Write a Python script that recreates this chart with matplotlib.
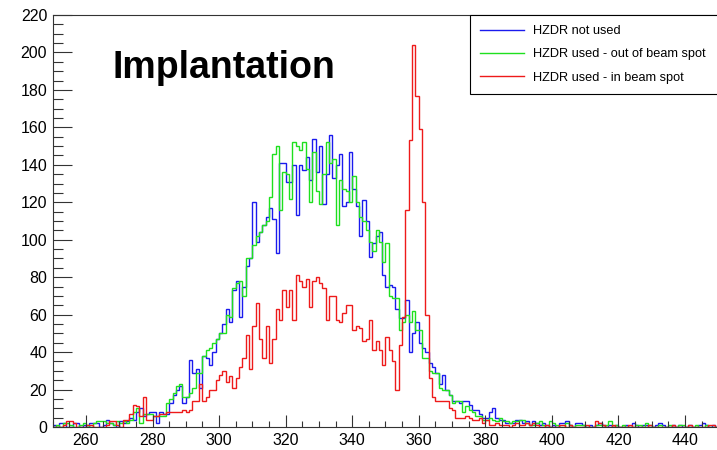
import numpy as np
import matplotlib
matplotlib.use("Agg")
import matplotlib.pyplot as plt
from matplotlib.ticker import MultipleLocator

plt.rcParams["font.family"] = ["Liberation Sans", "DejaVu Sans"]

# histogram range, 1 unit per bin
X_MIN = 250
X_MAX = 450

# counts per bin, bins 250..449
not_used = [
    1, 0, 2, 2, 0, 0, 2, 2, 0, 1,
    0, 2, 2, 2, 0, 1, 4, 2, 1, 0,
    3, 2, 3, 5, 4, 8, 10, 6, 7, 8,
    8, 2, 8, 7, 7, 13, 17, 20, 22, 13,
    16, 36, 29, 31, 21, 38, 37, 33, 40, 47,
    50, 55, 63, 56, 73, 78, 59, 75, 86, 90,
    120, 99, 104, 108, 112, 117, 111, 93, 141, 141,
    131, 131, 140, 113, 140, 137, 144, 132, 154, 136,
    150, 119, 135, 156, 133, 140, 146, 118, 120, 147,
    127, 118, 102, 121, 110, 91, 98, 102, 104, 81,
    75, 76, 75, 63, 58, 58, 68, 40, 50, 56,
    45, 42, 40, 34, 32, 29, 23, 28, 20, 17,
    14, 14, 13, 14, 14, 12, 9, 9, 7, 5,
    5, 8, 10, 5, 4, 4, 2, 2, 2, 4,
    4, 2, 3, 1, 3, 2, 1, 2, 1, 0,
    1, 0, 2, 2, 3, 1, 0, 2, 2, 1,
    0, 1, 0, 1, 2, 1, 0, 1, 0, 1,
    0, 0, 1, 0, 2, 1, 0, 1, 1, 0,
    0, 1, 2, 1, 0, 0, 1, 0, 1, 0,
    0, 1, 0, 0, 1, 2, 1, 0, 1, 0,
]

out_of_spot = [
    0, 1, 0, 2, 2, 1, 0, 0, 1, 2,
    1, 0, 2, 3, 3, 3, 2, 2, 1, 3,
    2, 3, 2, 4, 8, 10, 2, 7, 7, 7,
    6, 6, 6, 6, 13, 15, 18, 22, 23, 16,
    16, 18, 21, 29, 29, 38, 41, 42, 45, 47,
    50, 50, 60, 59, 74, 77, 78, 70, 90, 90,
    97, 102, 104, 108, 110, 123, 146, 150, 116, 136,
    135, 122, 152, 150, 148, 152, 138, 120, 147, 126,
    119, 135, 152, 141, 143, 108, 132, 127, 126, 120,
    134, 120, 112, 110, 105, 99, 94, 105, 99, 88,
    98, 70, 69, 69, 52, 56, 60, 56, 62, 52,
    52, 37, 37, 30, 29, 29, 21, 20, 20, 17,
    13, 14, 14, 8, 11, 9, 8, 6, 6, 4,
    4, 5, 4, 3, 5, 3, 3, 2, 3, 3,
    4, 4, 2, 1, 1, 2, 3, 1, 0, 3,
    2, 1, 0, 0, 2, 1, 0, 1, 1, 1,
    0, 0, 0, 1, 1, 0, 1, 3, 0, 1,
    0, 1, 0, 0, 0, 1, 1, 0, 2, 1,
    0, 0, 1, 0, 0, 1, 0, 0, 1, 1,
    0, 0, 0, 1, 0, 0, 1, 0, 0, 0,
]

in_spot = [
    0, 0, 0, 1, 3, 3, 2, 0, 0, 0,
    1, 1, 0, 0, 0, 0, 1, 3, 3, 1,
    0, 4, 4, 7, 12, 11, 6, 16, 4, 4,
    6, 6, 7, 7, 8, 8, 8, 8, 8, 9,
    8, 9, 14, 14, 23, 14, 16, 20, 20, 25,
    28, 30, 24, 27, 21, 26, 32, 37, 49, 31,
    54, 66, 47, 37, 54, 34, 47, 63, 57, 73,
    64, 73, 57, 81, 78, 75, 79, 64, 78, 80,
    77, 74, 57, 70, 70, 57, 56, 61, 65, 65,
    52, 54, 53, 46, 47, 57, 41, 46, 41, 33,
    48, 41, 35, 20, 44, 59, 116, 153, 204, 177,
    159, 120, 60, 26, 16, 14, 14, 14, 14, 10,
    9, 5, 5, 5, 6, 5, 4, 4, 5, 2,
    4, 1, 1, 2, 1, 1, 1, 0, 1, 2,
    1, 1, 2, 1, 2, 1, 0, 0, 1, 0,
    0, 0, 1, 1, 0, 1, 0, 0, 0, 0,
    1, 0, 0, 3, 2, 1, 0, 0, 1, 0,
    0, 0, 0, 1, 0, 0, 0, 0, 0, 1,
    0, 0, 0, 0, 0, 0, 1, 0, 0, 0,
    0, 1, 0, 0, 0, 0, 0, 1, 1, 0,
]

labels = ["HZDR not used", "HZDR used - out of beam spot", "HZDR used - in beam spot"]
colors = ["#1a1aee", "#1ee01e", "#ee1a1a"]


def main():
    edges = np.arange(X_MIN, X_MAX + 1)

    fig = plt.figure(figsize=(7.17, 4.5), dpi=100)
    # right edge of the frame sits just past the picture, like the reference
    ax = fig.add_axes([52.7 / 717, 23 / 450, 665.6 / 717, 412 / 450])

    for counts, label, color in zip([not_used, out_of_spot, in_spot], labels, colors):
        ax.stairs(counts, edges, color=color, lw=1.0, label=label)

    ax.set_xlim(X_MIN, X_MAX)
    ax.set_ylim(0, 220)

    ax.xaxis.set_major_locator(MultipleLocator(20))
    ax.xaxis.set_minor_locator(MultipleLocator(5))
    ax.yaxis.set_major_locator(MultipleLocator(20))
    ax.yaxis.set_minor_locator(MultipleLocator(5))

    ax.tick_params(axis="both", which="both", direction="in", labelsize=11.5,
                   width=0.8, colors="#333333", labelcolor="black")
    ax.tick_params(axis="y", which="major", length=14, pad=4)
    ax.tick_params(axis="y", which="minor", length=7)
    ax.tick_params(axis="x", which="major", length=9, pad=4)
    ax.tick_params(axis="x", which="minor", length=4.5)

    for side in ["left", "bottom", "top", "right"]:
        ax.spines[side].set_linewidth(0.8)
        ax.spines[side].set_color("#333333")

    ax.text(0.09, 0.847, "Implantation", transform=ax.transAxes,
            fontsize=27, fontweight="bold", va="baseline", ha="left")

    leg = ax.legend(loc="upper left", bbox_to_anchor=(417.3 / 665.6, 0, 248.3 / 665.6, 1.0),
                    mode="expand", borderaxespad=0, fontsize=9.2, fancybox=False,
                    edgecolor="black", framealpha=1, handlelength=3.4,
                    handletextpad=0.75, labelspacing=0.88, borderpad=0.8)
    leg.get_frame().set_linewidth(0.8)

    fig.savefig("out.png", dpi=100)


if __name__ == "__main__":
    main()
